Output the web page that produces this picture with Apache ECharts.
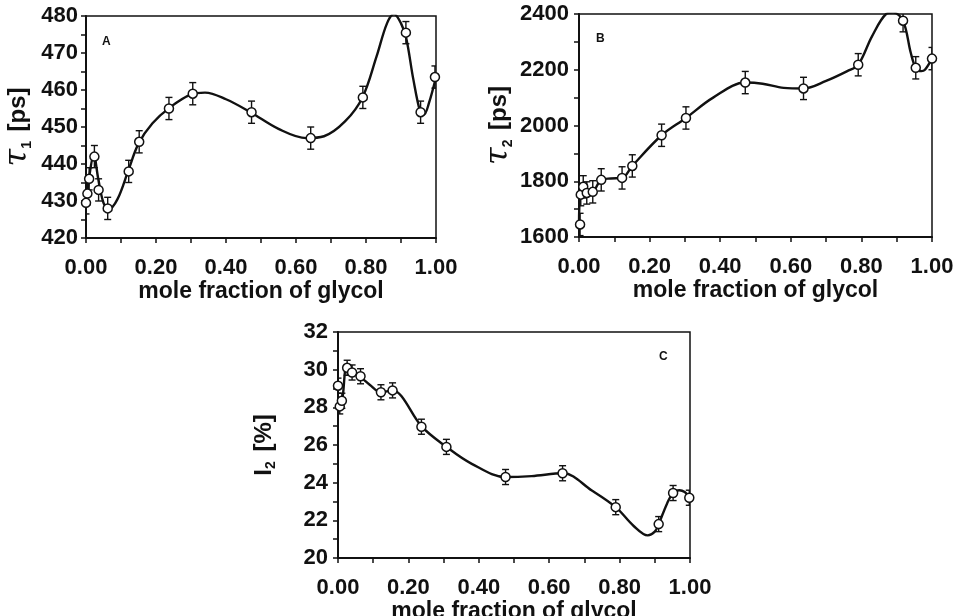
<!DOCTYPE html>
<html>
<head>
<meta charset="utf-8">
<script src="https://cdn.jsdelivr.net/npm/echarts@6/dist/echarts.min.js"></script>
<style>
  html, body { margin: 0; padding: 0; background: #fff; }
  #chart { width: 957px; height: 616px; }
</style>
</head>
<body>
<div id="chart"></div>
<script>
// panel A: tau1 vs mole fraction
var xA = [0.000, 0.004, 0.009, 0.024, 0.036, 0.062, 0.122, 0.152, 0.237, 0.305, 0.473, 0.642, 0.791, 0.914, 0.956, 0.997];
var tau1 = [429.5, 432, 436, 442, 433, 428, 438, 446, 455, 459, 454, 447, 458, 475.5, 454, 463.5];
var errA = [3, 3, 3, 3, 3, 3, 3, 3, 3, 3, 3, 3, 3, 3, 3, 3];
// fitted curve
var curveAx = [0.0, 0.01, 0.022, 0.035, 0.05, 0.065, 0.09, 0.12, 0.15, 0.19, 0.24, 0.30, 0.34, 0.40, 0.47, 0.55, 0.63, 0.68, 0.74, 0.79, 0.83, 0.86, 0.88, 0.90, 0.915, 0.935, 0.955, 0.965, 0.98, 1.0];
var curveAy = [429, 437, 442.5, 436, 429.5, 427.8, 430.5, 438, 445.5, 451, 455.3, 458.8, 459.3, 457.5, 454, 449.5, 447, 447.5, 451.5, 458, 469, 478, 480.5, 478, 474, 463, 454, 453.3, 456.5, 463.5];

// panel B: tau2
var xB = [0.003, 0.005, 0.012, 0.022, 0.039, 0.063, 0.122, 0.151, 0.234, 0.303, 0.471, 0.636, 0.791, 0.918, 0.954, 1.0];
var tau2 = [1645, 1752, 1780, 1758, 1762, 1805, 1812, 1855, 1965, 2027, 2154, 2133, 2218, 2376, 2207, 2240];
var errB = [40, 40, 40, 40, 40, 40, 40, 40, 40, 40, 40, 40, 40, 40, 40, 40];
var curveBx = [0.0, 0.003, 0.01, 0.02, 0.039, 0.063, 0.09, 0.122, 0.151, 0.234, 0.303, 0.38, 0.471, 0.52, 0.58, 0.636, 0.70, 0.76, 0.791, 0.83, 0.87, 0.89, 0.918, 0.94, 0.954, 0.97, 0.98, 1.0];
var curveBy = [1645, 1752, 1780, 1758, 1762, 1805, 1810, 1812, 1855, 1965, 2027, 2100, 2154, 2150, 2135, 2133, 2160, 2195, 2218, 2320, 2400, 2405, 2376, 2260, 2207, 2195, 2200, 2240];

// panel C: I2
var xC = [0.000, 0.005, 0.011, 0.026, 0.040, 0.064, 0.122, 0.155, 0.237, 0.308, 0.476, 0.638, 0.789, 0.911, 0.952, 0.998];
var i2 = [29.15, 28.05, 28.35, 30.1, 29.85, 29.65, 28.8, 28.9, 26.97, 25.9, 24.3, 24.5, 22.7, 21.8, 23.45, 23.2];
var errC = [0.4, 0.4, 0.4, 0.4, 0.4, 0.4, 0.4, 0.4, 0.4, 0.4, 0.4, 0.4, 0.4, 0.4, 0.4, 0.4];
var curveCx = [0.003, 0.012, 0.025, 0.04, 0.064, 0.09, 0.122, 0.155, 0.18, 0.237, 0.308, 0.38, 0.476, 0.55, 0.64, 0.72, 0.789, 0.84, 0.88, 0.90, 0.911, 0.935, 0.952, 0.97, 0.985, 1.0];
var curveCy = [28.0, 28.4, 30.15, 29.85, 29.6, 29.2, 28.8, 28.9, 28.6, 27.0, 25.9, 25.0, 24.3, 24.35, 24.5, 23.6, 22.7, 21.7, 21.2, 21.4, 21.8, 22.9, 23.45, 23.6, 23.5, 23.2];

var xTickLabels = ['0.00', '0.20', '0.40', '0.60', '0.80', '1.00'];

function zip(a, b, c) {
    var out = [];
    for (var i = 0; i < a.length; i++) {
        out.push(c ? [a[i], b[i], c[i]] : [a[i], b[i]]);
    }
    return out;
}

var ink = '#111';
var fontFam = '"Liberation Sans", Arial, sans-serif';

function errBar(params, api) {
    var x = api.value(0), y = api.value(1), e = api.value(2);
    var hi = api.coord([x, y + e]);
    var lo = api.coord([x, y - e]);
    var w = 3.5;
    var st = { stroke: ink, lineWidth: 1.4 };
    return {
        type: 'group',
        children: [
            { type: 'line', shape: { x1: hi[0], y1: hi[1], x2: lo[0], y2: lo[1] }, style: st },
            { type: 'line', shape: { x1: hi[0] - w, y1: hi[1], x2: hi[0] + w, y2: hi[1] }, style: st },
            { type: 'line', shape: { x1: lo[0] - w, y1: lo[1], x2: lo[0] + w, y2: lo[1] }, style: st }
        ]
    };
}

function xAxisOf(idx) {
    return {
        gridIndex: idx,
        type: 'value',
        min: 0, max: 1, interval: 0.2,
        name: 'mole fraction of glycol',
        nameLocation: 'middle',
        nameGap: 39,
        nameTextStyle: { color: ink, fontSize: 23, fontWeight: 'bold', fontFamily: fontFam },
        axisLine: { lineStyle: { color: ink, width: 2 } },
        axisTick: { lineStyle: { color: ink, width: 1.5 }, length: 5 },
        minorTick: { show: true, splitNumber: 2, length: 5, lineStyle: { color: ink, width: 1.5 } },
        splitLine: { show: false },
        axisLabel: {
            color: ink, fontSize: 22, fontWeight: 'bold', fontFamily: fontFam, margin: 19,
            formatter: function (v) { return xTickLabels[Math.round(v / 0.2)]; }
        }
    };
}

function yAxisOf(idx, min, max, interval, name, gap, margin) {
    return {
        gridIndex: idx,
        type: 'value',
        min: min, max: max, interval: interval,
        name: name,
        nameLocation: 'middle',
        nameGap: gap,
        nameRotate: 90,
        nameTextStyle: {
            color: ink, fontSize: 24, fontWeight: 'bold', fontFamily: fontFam,
            rich: {
                t: { fontSize: 32, fontStyle: 'italic', fontWeight: 'normal', fontFamily: '"DejaVu Serif", serif', color: ink },
                s: { fontSize: 14, fontWeight: 'bold', verticalAlign: 'bottom', padding: [14, 3, 0, 0], color: ink },
                n: { fontSize: 24, fontWeight: 'bold', fontFamily: fontFam, color: ink }
            }
        },
        axisLine: { show: true, lineStyle: { color: ink, width: 2 } },
        axisTick: { show: true, lineStyle: { color: ink, width: 1.5 }, length: 5 },
        minorTick: { show: true, splitNumber: 2, length: 5, lineStyle: { color: ink, width: 1.5 } },
        splitLine: { show: false },
        axisLabel: {
            color: ink, fontSize: 22, fontWeight: 'bold', fontFamily: fontFam, margin: margin,
            formatter: function (v) { return String(v); }
        }
    };
}

var gridStyle = { show: true, borderColor: ink, borderWidth: 1.5, backgroundColor: '#fff', containLabel: false, outerBoundsMode: 'none' };

var chart = echarts.init(document.getElementById('chart'), null, { renderer: 'canvas' });

var series = [];
var sets = [
    [xA, tau1, errA, curveAx, curveAy],
    [xB, tau2, errB, curveBx, curveBy],
    [xC, i2, errC, curveCx, curveCy]
];
for (var k = 0; k < sets.length; k++) {
    var s = sets[k];
    series.push({
        type: 'line',
        xAxisIndex: k, yAxisIndex: k,
        data: zip(s[3], s[4]),
        smooth: 0.35,
        showSymbol: false,
        lineStyle: { color: ink, width: 2.4 },
        clip: true,
        silent: true,
        z: 2
    });
    series.push({
        type: 'custom',
        xAxisIndex: k, yAxisIndex: k,
        data: zip(s[0], s[1], s[2]),
        renderItem: errBar,
        encode: { x: 0, y: 1 },
        clip: true,
        z: 3
    });
    series.push({
        type: 'scatter',
        xAxisIndex: k, yAxisIndex: k,
        data: zip(s[0], s[1]),
        symbol: 'circle',
        symbolSize: 9,
        itemStyle: { color: '#fff', borderColor: ink, borderWidth: 1.5, opacity: 1 },
        z: 4
    });
}

var option = {
    backgroundColor: '#fff',
    animation: false,
    grid: [
        Object.assign({ left: 86, right: 521, top: 16, bottom: 378 }, gridStyle),
        Object.assign({ left: 579, right: 25, top: 14, bottom: 379 }, gridStyle),
        Object.assign({ left: 338, right: 267, top: 332, bottom: 58 }, gridStyle)
    ],
    xAxis: [xAxisOf(0), xAxisOf(1), xAxisOf(2)],
    yAxis: [
        yAxisOf(0, 420, 480, 10, '{t|τ}{s|1}{n| [ps]}', 52, 8),
        yAxisOf(1, 1600, 2400, 200, '{t|τ}{s|2}{n| [ps]}', 64, 10),
        yAxisOf(2, 20, 32, 2, '{n|I}{s|2}{n| [%]}', 60, 10)
    ],
    graphic: [
        { type: 'text', left: 102, top: 36, style: { text: 'A', font: 'bold 12px ' + fontFam, fill: ink } },
        { type: 'text', left: 596, top: 33, style: { text: 'B', font: 'bold 12px ' + fontFam, fill: ink } },
        { type: 'text', left: 659, top: 351, style: { text: 'C', font: 'bold 12px ' + fontFam, fill: ink } }
    ],
    series: series
};

chart.setOption(option);
</script>
</body>
</html>
